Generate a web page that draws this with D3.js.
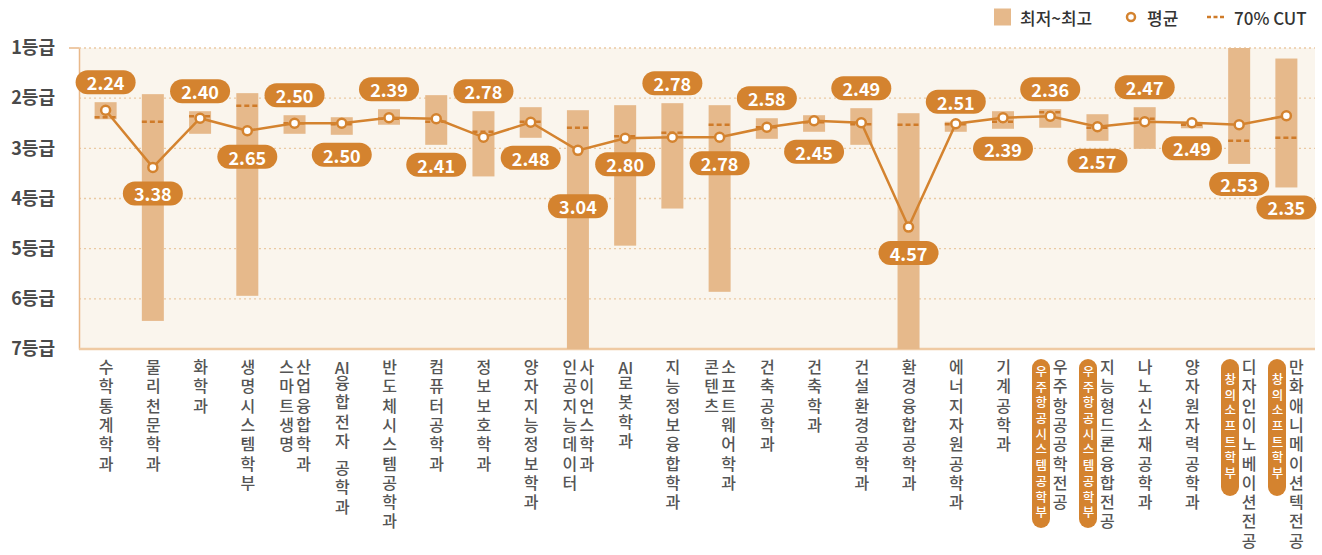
<!DOCTYPE html>
<meta charset="utf-8">
<head>
<style>
  body { margin: 0; background: #ffffff; }
  text { font-family: "Noto Sans CJK KR", "Noto Sans", sans-serif; }
  #chart { position: relative; width: 1322px; height: 555px; }
  #chart svg { position: absolute; left: 0; top: 0; }
  .vlabel {
    position: absolute;
    writing-mode: vertical-lr;
    text-orientation: upright;
    font-family: "Noto Sans CJK KR", sans-serif;
    white-space: nowrap;
  }
  .combo { text-combine-upright: all; }
  .gap { margin-inline-start: 8px; }
</style>
</head>

<!-- Load d3.js -->
<script src="https://d3js.org/d3.v7.min.js"></script>

<body>
  <div id="chart"></div>
</body>

<script>

  // department names, "|" splits a name into two vertical columns
  var depts = ["수학통계학과", "물리천문학과", "화학과", "생명시스템학부", "스마트생명|산업융합학과",
    "AI융합전자 공학과", "반도체시스템공학과", "컴퓨터공학과", "정보보호학과", "양자지능정보학과",
    "인공지능데이터|사이언스학과", "AI로봇학과", "지능정보융합학과", "콘텐츠|소프트웨어학과", "건축공학과",
    "건축학과", "건설환경공학과", "환경융합공학과", "에너지자원공학과", "기계공학과",
    "우주항공공학전공", "지능형드론융합전공", "나노신소재공학과", "양자원자력공학과", "디자인이노베이션전공",
    "만화애니메이션텍전공"];

  // parent school shown as an orange badge next to the name
  var schools = ["", "", "", "", "", "", "", "", "", "", "", "", "", "", "", "", "", "", "", "",
    "우주항공시스템공학부", "우주항공시스템공학부", "", "", "창의소프트학부", "창의소프트학부"];

  // best grade (top of the bar) and worst grade (bottom of the bar)
  var best  = [2.08, 1.92, 2.26, 1.90, 2.34, 2.38, 2.22, 1.94, 2.26, 2.18, 2.24, 2.14, 2.10,
               2.14, 2.40, 2.34, 2.20, 2.30, 2.47, 2.26, 2.22, 2.32, 2.18, 2.48, 1.00, 1.21];
  var worst = [2.42, 6.44, 2.71, 5.94, 2.71, 2.73, 2.53, 2.93, 3.56, 2.79, 7.00, 4.94, 4.20,
               5.86, 2.81, 2.67, 2.93, 7.00, 2.67, 2.61, 2.59, 2.85, 3.01, 2.60, 3.31, 3.78];
  var avg   = [2.24, 3.38, 2.40, 2.65, 2.50, 2.50, 2.39, 2.41, 2.78, 2.48, 3.04, 2.80, 2.78,
               2.78, 2.58, 2.45, 2.49, 4.57, 2.51, 2.39, 2.36, 2.57, 2.47, 2.49, 2.53, 2.35];
  var cut70 = [2.38, 2.47, 2.36, 2.15, 2.50, 2.52, 2.41, 2.47, 2.67, 2.47, 2.59, 2.76, 2.69,
               2.53, 2.58, 2.48, 2.52, 2.53, 2.52, 2.47, 2.28, 2.59, 2.41, 2.53, 2.85, 2.79];

  // where the average bubble sits: above the bar, below the bar, under the point
  var labelPos = ["above", "under", "above", "under", "above", "below", "above", "below", "above", "below",
    "under2", "under", "above", "under", "above", "below", "above", "under", "above", "below",
    "above", "below", "above", "below", "below", "below"];

  var gradeTicks = [1, 2, 3, 4, 5, 6, 7];

  var orange = "#d4832f",
      barColor = "#e6b98b",
      cutColor = "#cf7b29";

  var W = 1322, H = 555;
  var plot = {left: 79, right: 1315, top: 48, bottom: 349};

  var chart = d3.select("#chart");

  var svg = chart
    .append("svg")
      .attr("width", W)
      .attr("height", H);

  var x = d3.scaleBand()
    .domain(d3.range(depts.length))
    .range([82, 1310]);

  var y = d3.scaleLinear()
    .domain([1, 7])
    .range([plot.top, plot.bottom]);

  function cx(i) { return x(i) + x.bandwidth() / 2; }

  // plot background
  svg.append("rect")
    .attr("x", plot.left).attr("y", plot.top)
    .attr("width", plot.right - plot.left).attr("height", plot.bottom - plot.top)
    .attr("fill", "#faf5ed");

  // dotted grid lines
  svg.append("g")
    .selectAll("line")
    .data(gradeTicks.slice(0, -1))
    .enter()
    .append("line")
      .attr("x1", plot.left).attr("x2", plot.right)
      .attr("y1", function(d) { return y(d); })
      .attr("y2", function(d) { return y(d); })
      .attr("stroke", "#ebc9a2")
      .attr("stroke-width", 1.3)
      .attr("stroke-dasharray", "2,3");

  // y axis
  var yAxis = svg.append("g")
    .attr("transform", "translate(" + plot.left + ",0)")
    .call(d3.axisLeft(y).tickValues(gradeTicks).tickSize(0).tickPadding(24)
      .tickFormat(function(d) { return d + "등급"; }));
  yAxis.select(".domain").attr("stroke", "#e9b98a").attr("stroke-width", 1.5);
  yAxis.selectAll("text")
    .attr("font-family", "'Noto Sans CJK KR', sans-serif")
    .style("font-size", "18px")
    .style("font-weight", "700")
    .attr("fill", "#4a4a4a");
  svg.append("line")
    .attr("x1", plot.left - 10).attr("x2", plot.left)
    .attr("y1", y(1)).attr("y2", y(1))
    .attr("stroke", "#e9b98a").attr("stroke-width", 1.5);

  // bottom axis line
  svg.append("line")
    .attr("x1", plot.left).attr("x2", plot.right)
    .attr("y1", plot.bottom).attr("y2", plot.bottom)
    .attr("stroke", "#efcaa3").attr("stroke-width", 2.5);

  // min~max bars
  var barW = 22;
  svg.append("g")
    .selectAll("rect")
    .data(depts)
    .enter()
    .append("rect")
      .attr("x", function(d, i) { return cx(i) - barW / 2; })
      .attr("y", function(d, i) { return y(best[i]); })
      .attr("width", barW)
      .attr("height", function(d, i) { return y(worst[i]) - y(best[i]); })
      .attr("fill", barColor);

  // 70% cut dashes
  svg.append("g")
    .selectAll("line")
    .data(cut70)
    .enter()
    .append("line")
      .attr("x1", function(d, i) { return cx(i) - barW / 2; })
      .attr("x2", function(d, i) { return cx(i) + barW / 2; })
      .attr("y1", function(d) { return y(d); })
      .attr("y2", function(d) { return y(d); })
      .attr("stroke", cutColor)
      .attr("stroke-width", 2.5)
      .attr("stroke-dasharray", "5,3");

  // average line + points
  var line = d3.line()
    .x(function(d, i) { return cx(i); })
    .y(function(d) { return y(d); });

  svg.append("path")
    .datum(avg)
    .attr("d", line)
    .attr("fill", "none")
    .attr("stroke", orange)
    .attr("stroke-width", 2.5);

  svg.append("g")
    .selectAll("circle")
    .data(avg)
    .enter()
    .append("circle")
      .attr("cx", function(d, i) { return cx(i); })
      .attr("cy", function(d) { return y(d); })
      .attr("r", 4.5)
      .attr("fill", "#ffffff")
      .attr("stroke", orange)
      .attr("stroke-width", 2.5);

  // average bubbles
  function bubbleY(i) {
    if (labelPos[i] == "above") return y(best[i]) - 20;
    if (labelPos[i] == "below") return y(worst[i]) + 20;
    if (labelPos[i] == "under2") return y(avg[i]) + 56;
    return y(avg[i]) + 26;
  }

  var bubbles = svg.append("g")
    .selectAll("g")
    .data(avg)
    .enter()
    .append("g")
      .attr("transform", function(d, i) { return "translate(" + cx(i) + "," + bubbleY(i) + ")"; });

  bubbles.append("rect")
    .attr("x", -30).attr("y", -12)
    .attr("width", 60).attr("height", 24)
    .attr("rx", 12)
    .attr("fill", orange);

  bubbles.append("text")
    .attr("text-anchor", "middle")
    .attr("dominant-baseline", "central")
    .attr("y", 0)
    .attr("fill", "#ffffff")
    .style("font-size", "18px")
    .style("font-weight", "700")
    .text(function(d) { return d.toFixed(2); });

  // vertical category labels (upright glyphs, "AI" kept side by side)
  function labelHtml(s) {
    return s.split("|").map(function(part) {
      var words = part.split(" ").map(function(w) {
        return w.replace("AI", "<span class='combo'>AI</span>");
      });
      return words[0] + (words.length > 1 ? "<span class='gap'>" + words[1] + "</span>" : "");
    }).join("<br>");
  }

  var labelTop = 359;
  depts.forEach(function(name, i) {
    var c = cx(i);
    var nCols = name.split("|").length;
    var colX = c - 8.5 * nCols;
    if (schools[i] != "") {
      var n = schools[i].length, pitch = 15.7;
      var h = Math.max(n * pitch + 12, 137);
      chart.append("div")
        .attr("class", "vlabel")
        .style("left", (c - 18.5) + "px")
        .style("top", "359px")
        .style("width", "18px")
        .style("height", h + "px")
        .style("line-height", "18px")
        .style("border-radius", "9px")
        .style("background", orange)
        .style("color", "#ffffff")
        .style("font-size", "12.5px")
        .style("font-weight", "500")
        .style("letter-spacing", (pitch - 12.5) + "px")
        .style("text-align", "center")
        .text(schools[i]);
      colX = c + 1;
    }
    chart.append("div")
      .attr("class", "vlabel")
      .style("left", colX + "px")
      .style("top", labelTop + "px")
      .style("line-height", "17px")
      .style("font-size", "16px")
      .style("font-weight", "500")
      .style("letter-spacing", "3.3px")
      .style("color", "#555555")
      .html(labelHtml(name));
  });

  // legend
  var legend = svg.append("g").attr("transform", "translate(0,17)");
  legend.append("rect").attr("x", 994).attr("y", -8.5).attr("width", 17).attr("height", 17).attr("fill", barColor);
  legend.append("text").attr("x", 1020).attr("y", 0).attr("dominant-baseline", "central")
    .style("font-size", "17px").style("font-weight", "500").attr("fill", "#333").text("최저~최고");
  legend.append("circle").attr("cx", 1131).attr("cy", 0).attr("r", 4)
    .attr("fill", "#fff").attr("stroke", orange).attr("stroke-width", 2.5);
  legend.append("text").attr("x", 1147).attr("y", 0).attr("dominant-baseline", "central")
    .style("font-size", "17px").style("font-weight", "500").attr("fill", "#333").text("평균");
  legend.append("line").attr("x1", 1207).attr("x2", 1224).attr("y1", 0).attr("y2", 0)
    .attr("stroke", cutColor).attr("stroke-width", 2.5).attr("stroke-dasharray", "4,2.5");
  legend.append("text").attr("x", 1234).attr("y", 0).attr("dominant-baseline", "central")
    .style("font-size", "17px").style("font-weight", "500").attr("fill", "#333").text("70% CUT");

</script>
